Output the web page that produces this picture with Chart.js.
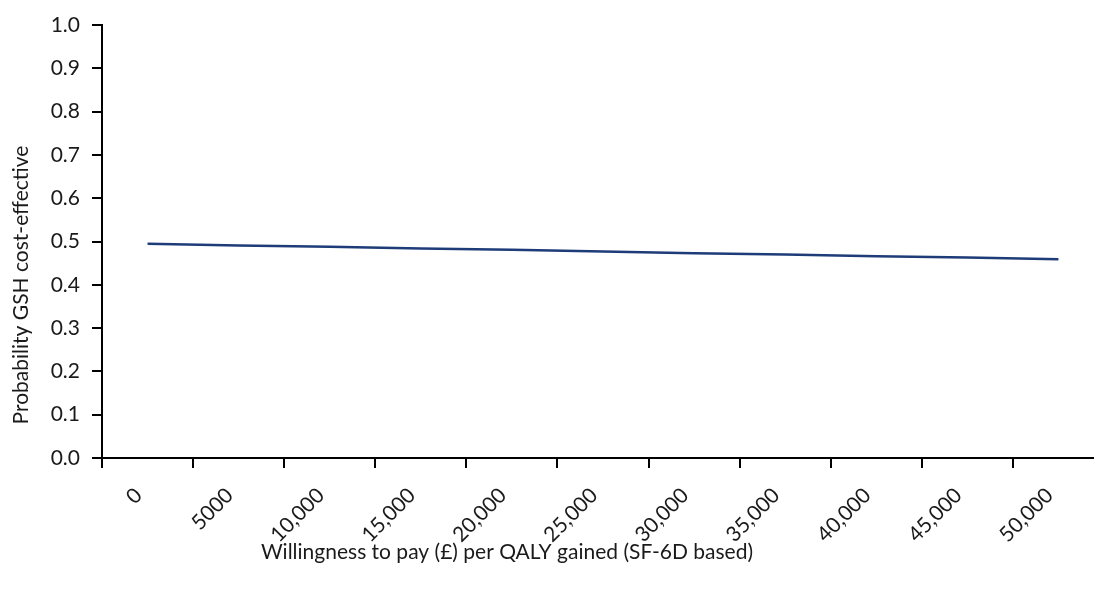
<!DOCTYPE html>
<html>
<head>
<meta charset="utf-8">
<script src="https://cdn.jsdelivr.net/npm/chart.js@4.4.1/dist/chart.umd.min.js"></script>
<style>
    html, body { margin: 0; padding: 0; background: #fff; overflow: hidden; }
    #wrap { width: 1104px; height: 591px; position: relative; }
</style>
</head>
<body>
<div id="wrap"><canvas id="ceac"></canvas></div>
<script>
// willingness-to-pay thresholds (GBP per QALY)
var wtpLabels = ['0', '5000', '10,000', '15,000', '20,000', '25,000', '30,000', '35,000', '40,000', '45,000', '50,000'];
// probability GSH is cost-effective at each threshold
var probGSH = [0.495, 0.491, 0.488, 0.484, 0.481, 0.477, 0.473, 0.470, 0.466, 0.463, 0.459];
var yTitle = 'Probability GSH cost-effective';
var xTitle = 'Willingness to pay (\u00a3) per QALY gained (SF-6D based)';

var font = "Lato";
var fontSize = 21;

// axis titles are not centred on the plot area in the original, so draw them here
var axisTitles = {
    id: 'axisTitles',
    afterDraw: function (chart) {
        var c = chart.ctx;
        c.save();
        c.fillStyle = '#1a1a1a';
        c.font = fontSize + 'px ' + font;
        c.textAlign = 'center';
        c.textBaseline = 'middle';
        c.fillText(xTitle, 507, 552);
        c.translate(21, 285);
        c.rotate(-Math.PI / 2);
        c.fillText(yTitle, 0, 0);
        c.restore();
    }
};

new Chart(document.getElementById('ceac'), {
    type: 'line',
    data: {
        labels: wtpLabels,
        datasets: [{
            data: probGSH,
            borderColor: '#1d3c78',
            borderWidth: 2.5,
            pointRadius: 0,
            tension: 0,
            fill: false
        }]
    },
    options: {
        responsive: true,
        maintainAspectRatio: false,
        animation: false,
        layout: { padding: { top: 25, left: 0, right: 0, bottom: 0 } },
        plugins: {
            legend: { display: false },
            tooltip: { enabled: false }
        },
        scales: {
            x: {
                type: 'category',
                offset: true,
                border: { display: true, color: '#000', width: 2 },
                grid: { display: true, offset: true, drawOnChartArea: false, tickLength: 10, color: '#000', lineWidth: 2 },
                ticks: {
                    color: '#1a1a1a',
                    font: { family: font, size: fontSize },
                    minRotation: 45,
                    maxRotation: 45,
                    autoSkip: false,
                    padding: 15,
                    labelOffset: -9
                },
                afterFit: function (scale) { scale.height = 133; }
            },
            y: {
                min: 0,
                max: 1,
                border: { display: true, color: '#000', width: 2 },
                grid: { display: true, drawOnChartArea: false, tickLength: 10, color: '#000', lineWidth: 2 },
                ticks: {
                    stepSize: 0.1,
                    color: '#1a1a1a',
                    font: { family: font, size: fontSize },
                    padding: 12,
                    callback: function (v) { return v.toFixed(1); }
                },
                afterFit: function (scale) { scale.width = 102; }
            }
        }
    },
    plugins: [axisTitles]
});
</script>
</body>
</html>
